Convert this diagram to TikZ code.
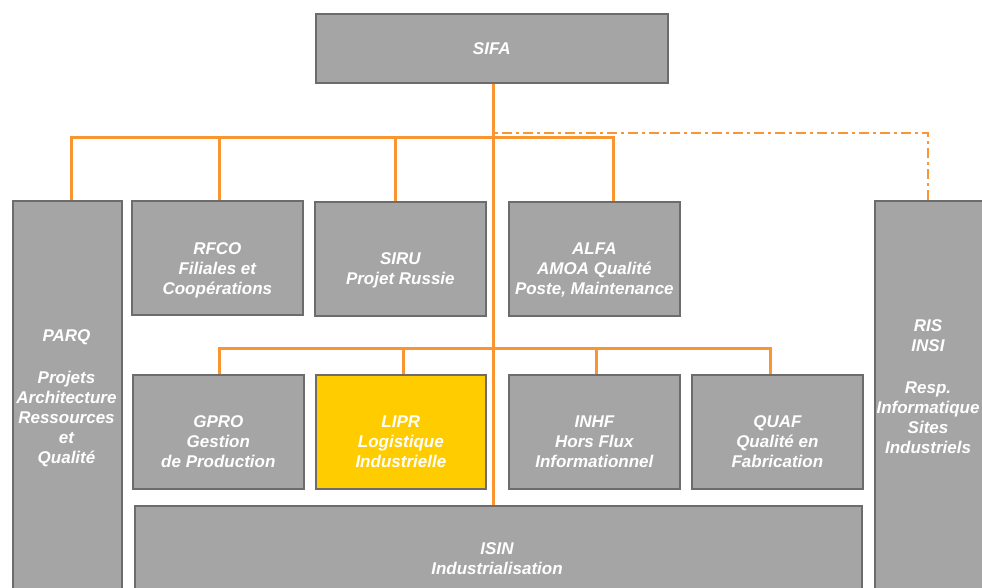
\documentclass[tikz,border=0pt]{standalone}
\usepackage{fontspec}
\setmainfont{Liberation Sans}
\definecolor{boxgray}{RGB}{165,165,165}
\definecolor{boxline}{RGB}{108,108,108}
\definecolor{org}{RGB}{250,150,50}
\definecolor{liprcol}{RGB}{255,204,0}
\begin{document}
\begin{tikzpicture}[x=1pt,y=-1pt,
  box/.style={draw=boxline, line width=1.7pt, fill=boxgray, inner sep=0pt, anchor=north west},
  txt/.style={text=white, font=\fontsize{17}{20}\selectfont\bfseries\itshape, align=center, inner sep=0pt},
  link/.style={draw=org, line width=3pt},
  dlink/.style={draw=org, line width=2pt, dash pattern=on 10pt off 4pt on 3pt off 4pt}]
\useasboundingbox (0,0) rectangle (982,588);
\clip (0,0) rectangle (982,588);
\fill[white] (0,0) rectangle (982,588);
% connectors (behind boxes)
\node[box, minimum width=352pt, minimum height=69pt] (sifa) at (315,13) {};
\node[box, minimum width=727pt, minimum height=100pt] (isin) at (134,505) {};
\draw[link] ([xshift=2pt]sifa.south) -- ([xshift=2pt]sifa.south |- isin.north);
% boxes row 1
\node[box, minimum width=109pt, minimum height=400pt] (parq) at (12,200) {};
\node[box, minimum width=171pt, minimum height=114pt] (rfco) at (131,200) {};
\node[box, minimum width=171pt, minimum height=114pt] (siru) at (314,201) {};
\node[box, minimum width=171pt, minimum height=114pt] (alfa) at (508,201) {};
\node[box, minimum width=115pt, minimum height=400pt] (ris) at (874,200) {};
% boxes row 2
\node[box, minimum width=171pt, minimum height=114pt] (gpro) at (132,374) {};
\node[box, fill=liprcol, minimum width=170pt, minimum height=114pt] (lipr) at (315,374) {};
\node[box, minimum width=171pt, minimum height=114pt] (inhf) at (508,374) {};
\node[box, minimum width=171pt, minimum height=114pt] (quaf) at (691,374) {};
% top bus
\draw[link] ([xshift=4.5pt]parq.north) -- ++(0,-62) -| ([xshift=19.5pt]alfa.north);
\draw[link] ([xshift=2.5pt]rfco.north) -- ++(0,-62);
\draw[link] ([xshift=-4.5pt]siru.north) -- ++(0,-63);
\draw[dlink] ([xshift=-4.5pt]ris.north) |- ([xshift=2pt,yshift=-49pt]sifa.south);
% second bus
\draw[link] ([xshift=1.5pt]gpro.north) -- ++(0,-26) -| ([xshift=-6.5pt]quaf.north);
\draw[link] ([xshift=3pt]lipr.north) -- ++(0,-26);
\draw[link] ([xshift=2.5pt]inhf.north) -- ++(0,-26);
% texts
\node[txt] (sifaT) at (sifa.center) {SIFA};
\node[txt] (rfcoT) at ([yshift=-12pt]rfco.center) {RFCO\\Filiales et\\Coopérations};
\node[txt] (siruT) at ([yshift=-11pt]siru.center) {SIRU\\Projet Russie};
\node[txt] (alfaT) at ([yshift=-11pt]alfa.center) {ALFA\\AMOA Qualité\\Poste, Maintenance};
\node[txt] (parqT) at (66.5,398) {PARQ\\[22pt]Projets\\Architecture\\Ressources\\et\\Qualité};
\node[txt] (risT) at (928,387) {RIS\\INSI\\[22pt]Resp.\\Informatique\\Sites\\Industriels};
\node[txt] (gproT) at ([yshift=-10pt]gpro.center) {GPRO\\Gestion\\de Production};
\node[txt] (liprT) at ([yshift=-10pt]lipr.center) {LIPR\\Logistique\\Industrielle};
\node[txt] (inhfT) at ([yshift=-10pt]inhf.center) {INHF\\Hors Flux\\Informationnel};
\node[txt] (quafT) at ([yshift=-10pt]quaf.center) {QUAF\\Qualité en\\Fabrication};
\node[txt] (isinT) at (497,558.5) {ISIN\\Industrialisation};
\end{tikzpicture}
\end{document}
